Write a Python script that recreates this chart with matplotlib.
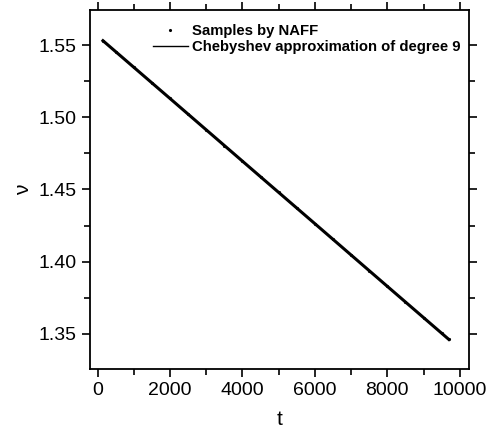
import numpy as np
import matplotlib
matplotlib.use("Agg")
import matplotlib.pyplot as plt
from matplotlib.ticker import MultipleLocator

plt.rcParams['font.family'] = ['Liberation Sans', 'DejaVu Sans']

# valores
t_amostras = [150, 500, 1000, 1500, 2000, 2500, 3000, 3500, 4000, 4500, 5000,
              5500, 6000, 6500, 7000, 7500, 8000, 8500, 9000, 9500, 9700]
nu_amostras = [1.5530, 1.5455, 1.5346, 1.5238, 1.5130, 1.5021, 1.4913, 1.4804,
               1.4696, 1.4588, 1.4479, 1.4371, 1.4263, 1.4154, 1.4046, 1.3938,
               1.3829, 1.3721, 1.3613, 1.3504, 1.3461]

t_cheb = [150, 2000, 4000, 6000, 8000, 9700]
nu_cheb = [1.5530, 1.5130, 1.4696, 1.4263, 1.3829, 1.3461]


def main():
    fig = plt.figure(figsize=(4.94, 4.32), dpi=100)
    ax = fig.add_axes([0.182, 0.146, 0.767, 0.831])

    ax.plot(t_amostras, nu_amostras, 'k.', markersize=2.5, label='Samples by NAFF')
    ax.plot(t_cheb, nu_cheb, 'k-', linewidth=2.2, label='Chebyshev approximation of degree 9')

    ax.set_xlim(-210, 10250)
    ax.set_ylim(1.3257, 1.5743)
    ax.xaxis.set_major_locator(MultipleLocator(2000))
    ax.xaxis.set_minor_locator(MultipleLocator(1000))
    ax.yaxis.set_major_locator(MultipleLocator(0.05))
    ax.yaxis.set_minor_locator(MultipleLocator(0.025))

    ax.tick_params(which='both', direction='out', top=True, right=True,
                   width=1.2, labelsize=14)
    ax.tick_params(which='major', length=6)
    ax.tick_params(which='minor', length=4)
    for s in ax.spines.values():
        s.set_linewidth(1.3)

    ax.set_xlabel("t", fontsize=15, labelpad=8)
    ax.set_ylabel("ν", fontsize=15, labelpad=4)

    leg = ax.legend(loc='upper left', bbox_to_anchor=(0.14, 0.99), frameon=False,
                    prop={'weight': 'bold', 'size': 10.7}, handlelength=2.3,
                    handletextpad=0.3, labelspacing=0.15, borderaxespad=0.3)
    leg.get_lines()[1].set_linewidth(1)

    fig.savefig("out.png", dpi=100)


if __name__ == "__main__":
    main()
